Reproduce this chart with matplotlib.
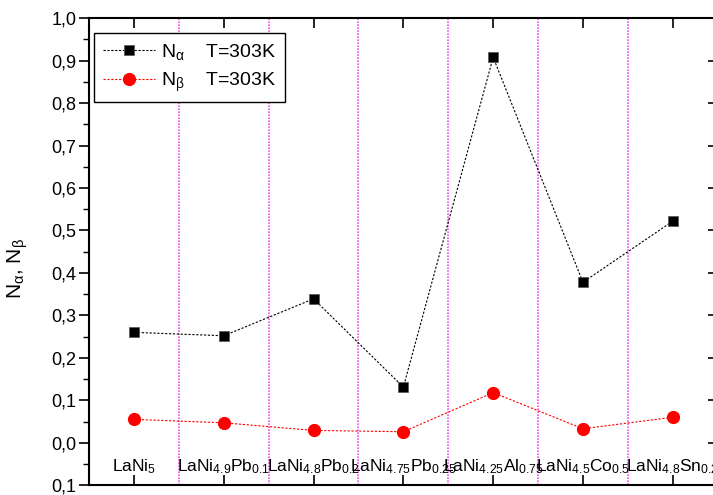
import numpy as np
import matplotlib
matplotlib.use("Agg")
import matplotlib.pyplot as plt
from matplotlib.ticker import FixedLocator, MultipleLocator

plt.rcParams['font.family'] = 'Liberation Sans'
plt.rcParams['mathtext.fontset'] = 'custom'
plt.rcParams['mathtext.rm'] = 'Liberation Sans'
plt.rcParams['mathtext.it'] = 'Liberation Sans:italic'
plt.rcParams['mathtext.bf'] = 'Liberation Sans:bold'
plt.rcParams['mathtext.default'] = 'regular'

# data
alloys = [r'LaNi$_5$', r'LaNi$_{4.9}$Pb$_{0.1}$', r'LaNi$_{4.8}$Pb$_{0.2}$',
          r'LaNi$_{4.75}$Pb$_{0.25}$', r'LaNi$_{4.25}$Al$_{0.75}$',
          r'LaNi$_{4.5}$Co$_{0.5}$', r'LaNi$_{4.8}$Sn$_{0.2}$']
n_alpha = [0.260, 0.252, 0.339, 0.131, 0.908, 0.378, 0.522]
n_beta = [0.055, 0.047, 0.029, 0.026, 0.118, 0.033, 0.060]
ytick_vals = [-0.1, 0.0, 0.1, 0.2, 0.3, 0.4, 0.5, 0.6, 0.7, 0.8, 0.9, 1.0]
ytick_text = ['0,1', '0,0', '0,1', '0,2', '0,3', '0,4', '0,5', '0,6',
              '0,7', '0,8', '0,9', '1,0']

x = np.arange(1, len(alloys) + 1)

fig = plt.figure(figsize=(7.13, 4.95), dpi=100)
ax = fig.add_axes([0.125, 0.0198, 0.8815, 0.9434])

# separators between compounds
for xb in x[:-1] + 0.5:
    ax.axvline(xb, color='#f050f0', lw=1.2, ls=(0, (1, 0.8)), zorder=1)

ax.plot(x, n_alpha, color='black', lw=0.8, ls=(0, (2, 1.5)), marker='s',
        ms=7, mfc='black', mec='#555555', mew=0.5, zorder=3,
        label=r'N$_\alpha$    T=303K')
ax.plot(x, n_beta, color='red', lw=0.8, ls=(0, (2, 1.5)), marker='o',
        ms=8.5, mfc='red', mec='red', zorder=3,
        label=r'N$_\beta$    T=303K')

for xi, name in zip(x, alloys):
    ax.text(xi, -0.068, name, ha='center', va='baseline', fontsize=12.5)

ax.set_xlim(0.5, 7.5)
ax.set_ylim(-0.1, 1.0)

ax.yaxis.set_major_locator(FixedLocator(ytick_vals))
ax.set_yticklabels(ytick_text)
ax.yaxis.set_minor_locator(MultipleLocator(0.05))
ax.set_xticks(x)
ax.set_xticklabels([])

ax.tick_params(axis='y', which='major', direction='out', length=7, width=1.2,
               labelsize=13, pad=2, right=False)
ax.tick_params(axis='y', which='minor', direction='out', length=4, width=1.0,
               right=False)
ax.tick_params(axis='x', which='major', direction='in', length=7, width=1.2,
               top=True, bottom=True)

# right side ticks point inward
sec = ax.secondary_yaxis('right')
sec.yaxis.set_major_locator(FixedLocator(ytick_vals))
sec.yaxis.set_minor_locator(MultipleLocator(0.05))
sec.tick_params(which='major', direction='in', length=7, width=1.2, labelright=False)
sec.tick_params(which='minor', direction='in', length=3, width=0.8)
sec.spines['right'].set_linewidth(1.5)

for s in ax.spines.values():
    s.set_linewidth(1.5)

ax.set_ylabel(r'N$_\alpha$, N$_\beta$', fontsize=15)
ax.yaxis.set_label_coords(-0.094, 0.465)

leg = ax.legend(loc='upper left', bbox_to_anchor=(0.008, 0.9685),
                borderaxespad=0, fontsize=14, fancybox=False, framealpha=1,
                edgecolor='black', handlelength=2.7, handletextpad=0.3,
                labelspacing=0.45, borderpad=0.45)
leg.get_frame().set_linewidth(1.0)

fig.savefig('out.png', dpi=100)
